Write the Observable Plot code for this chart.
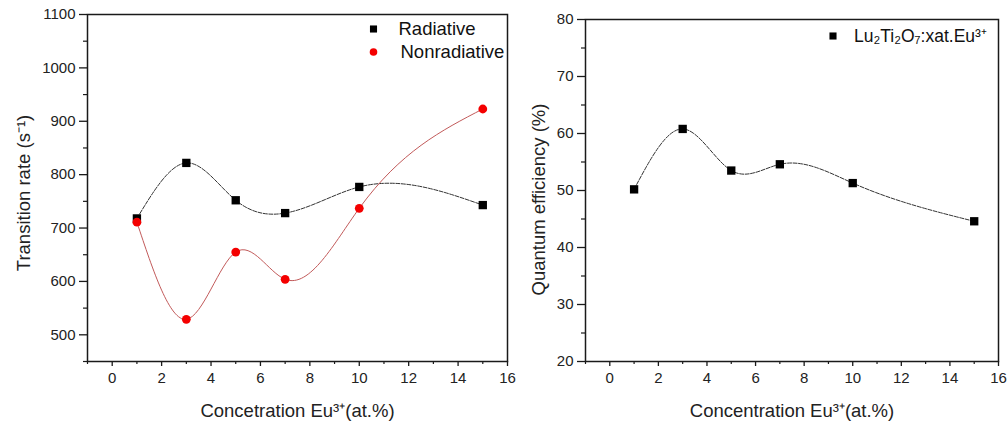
<!DOCTYPE html>
<html>
<head>
<meta charset="utf-8">
<script src="https://cdn.jsdelivr.net/npm/d3@7"></script>
<script src="https://cdn.jsdelivr.net/npm/@observablehq/plot@0.6"></script>
<style>
  html, body { margin: 0; padding: 0; background: #fff; }
  #wrap { position: relative; width: 1008px; height: 426px; overflow: hidden; background: #fff; }
  #left, #right { position: absolute; top: 0; }
  #left { left: 0; }
  #right { left: 510px; }
  svg { background: transparent !important; }
</style>
</head>
<body>
<div id="wrap"><div id="left"></div><div id="right"></div></div>
<script>
// ---- data ----
const concentration = [1, 3, 5, 7, 10, 15];
const radiative = [718, 822, 752, 728, 777, 743];
const nonradiative = [711, 529, 655, 604, 737, 923];
const quantumEfficiency = [50.2, 60.8, 53.5, 54.6, 51.3, 44.6];

const xMajorTicks = [0, 2, 4, 6, 8, 10, 12, 14, 16];
const xMinorTicks = [-1, 1, 3, 5, 7, 9, 11, 13, 15];
const yLeftMajorTicks = [500, 600, 700, 800, 900, 1000, 1100];
const yLeftMinorTicks = [450, 550, 650, 750, 850, 950, 1050];
const yRightMajorTicks = [20, 30, 40, 50, 60, 70, 80];
const yRightMinorTicks = [25, 35, 45, 55, 65, 75];

const leftLegend = ["Radiative", "Nonradiative"];
const rightLegend = ["Lu\u2082Ti\u2082O\u2087:xat.Eu\u00b3\u207a"];
const leftXLabel = "Concetration Eu\u00b3\u207a(at.%)";
const rightXLabel = "Concentration Eu\u00b3\u207a(at.%)";
const leftYLabel = "Transition rate (s\u207b\u00b9)";
const rightYLabel = "Quantum efficiency (%)";

const radRows = concentration.map((c, i) => ({c, v: radiative[i]}));
const nonRows = concentration.map((c, i) => ({c, v: nonradiative[i]}));
const qeRows = concentration.map((c, i) => ({c, v: quantumEfficiency[i]}));

const FONT = "'Liberation Sans', Arial, Helvetica, sans-serif";
const INK = "#1a1a1a";

// custom d3-style curve: natural cubic spline of y as a function of x
function splineX(context) {
  let xs, ys;
  return {
    areaStart() {}, areaEnd() {},
    lineStart() { xs = []; ys = []; },
    point(x, y) { xs.push(+x); ys.push(+y); },
    lineEnd() {
      const n = xs.length;
      if (!n) return;
      context.moveTo(xs[0], ys[0]);
      if (n === 1) return;
      if (n === 2) { context.lineTo(xs[1], ys[1]); return; }
      const h = [];
      for (let i = 0; i < n - 1; i++) h[i] = xs[i + 1] - xs[i];
      const M = new Array(n).fill(0);
      const m = n - 2, a = [], b = [], c = [], d = [];
      for (let k = 0; k < m; k++) {
        const i = k + 1;
        a[k] = h[i - 1]; b[k] = 2 * (h[i - 1] + h[i]); c[k] = h[i];
        d[k] = 6 * ((ys[i + 1] - ys[i]) / h[i] - (ys[i] - ys[i - 1]) / h[i - 1]);
      }
      for (let k = 1; k < m; k++) {
        const w = a[k] / b[k - 1];
        b[k] -= w * c[k - 1];
        d[k] -= w * d[k - 1];
      }
      const sol = new Array(m);
      sol[m - 1] = d[m - 1] / b[m - 1];
      for (let k = m - 2; k >= 0; k--) sol[k] = (d[k] - c[k] * sol[k + 1]) / b[k];
      for (let k = 0; k < m; k++) M[k + 1] = sol[k];
      for (let i = 0; i < n - 1; i++) {
        const hh = h[i], s = (ys[i + 1] - ys[i]) / hh;
        const m0 = s - hh * (2 * M[i] + M[i + 1]) / 6;
        const m1 = s + hh * (M[i] + 2 * M[i + 1]) / 6;
        context.bezierCurveTo(xs[i] + hh / 3, ys[i] + m0 * hh / 3,
                              xs[i + 1] - hh / 3, ys[i + 1] - m1 * hh / 3,
                              xs[i + 1], ys[i + 1]);
      }
    }
  };
}

function axes(yMajor, yMinor) {
  return [
    Plot.axisX(xMajorTicks, {tickSize: 5, tickPadding: 6, tickFormat: (d) => String(d), label: null, fontSize: 15, stroke: INK, strokeWidth: 1.3, fill: "#222"}),
    Plot.axisX(xMinorTicks, {tickSize: 3, tickFormat: () => "", label: null, stroke: INK, strokeWidth: 1.2}),
    Plot.axisY(yMajor, {tickSize: 8, tickPadding: 4, tickFormat: (d) => String(d), label: null, fontSize: 15, stroke: INK, strokeWidth: 1.3, fill: "#222"}),
    Plot.axisY(yMinor, {tickSize: 4, tickFormat: () => "", label: null, stroke: INK, strokeWidth: 1.2})
  ];
}

const left = Plot.plot({
  width: 510, height: 426,
  marginLeft: 87, marginRight: 3, marginTop: 14, marginBottom: 65,
  style: {fontFamily: FONT, fontSize: "15px", color: "#222", background: "transparent", overflow: "visible"},
  x: {domain: [-1, 16]},
  y: {domain: [450, 1100]},
  marks: [
    ...axes(yLeftMajorTicks, yLeftMinorTicks),
    Plot.line(radRows, {x: "c", y: "v", curve: splineX, stroke: "#333", strokeWidth: 1, strokeDasharray: "4,1.5"}),
    Plot.line(nonRows, {x: "c", y: "v", curve: splineX, stroke: "#c25a5a", strokeWidth: 1}),
    Plot.dot(radRows, {x: "c", y: "v", symbol: "square", r: 4.7, fill: "#000", stroke: "none"}),
    Plot.dot(nonRows, {x: "c", y: "v", symbol: "circle", r: 4.4, fill: "#f40000", stroke: "none"}),
    Plot.frame({stroke: INK, strokeWidth: 1.5}),
    // legend
    Plot.dot([0], {x: null, y: null, frameAnchor: "top-right", dx: -134, dy: 14.5, symbol: "square", r: 4, fill: "#000", stroke: "none"}),
    Plot.dot([0], {x: null, y: null, frameAnchor: "top-right", dx: -134, dy: 37.5, symbol: "circle", r: 3.8, fill: "#f40000", stroke: "none"}),
    Plot.text([leftLegend[0]], {frameAnchor: "top-right", dx: -109, dy: 14.5, textAnchor: "start", lineAnchor: "middle", fontSize: 18.5, fill: "#111"}),
    Plot.text([leftLegend[1]], {frameAnchor: "top-right", dx: -107, dy: 37.5, textAnchor: "start", lineAnchor: "middle", fontSize: 18.5, fill: "#111"}),
    // axis titles
    Plot.text([leftXLabel], {frameAnchor: "bottom", dy: 50, textAnchor: "middle", lineAnchor: "middle", fontSize: 18.5, fill: "#222"}),
    Plot.text([leftYLabel], {frameAnchor: "left", dx: -63, dy: 5, rotate: -90, textAnchor: "middle", lineAnchor: "middle", fontSize: 18.5, fill: "#222"})
  ]
});

const right = Plot.plot({
  width: 498, height: 426,
  marginLeft: 75, marginRight: 10, marginTop: 19, marginBottom: 65,
  style: {fontFamily: FONT, fontSize: "15px", color: "#222", background: "transparent", overflow: "visible"},
  x: {domain: [-1, 16]},
  y: {domain: [20, 80]},
  marks: [
    ...axes(yRightMajorTicks, yRightMinorTicks),
    Plot.line(qeRows, {x: "c", y: "v", curve: splineX, stroke: "#333", strokeWidth: 1, strokeDasharray: "4,1.5"}),
    Plot.dot(qeRows, {x: "c", y: "v", symbol: "square", r: 4.7, fill: "#000", stroke: "none"}),
    Plot.frame({stroke: INK, strokeWidth: 1.5}),
    Plot.dot([0], {x: null, y: null, frameAnchor: "top-right", dx: -165.5, dy: 16.5, symbol: "square", r: 4, fill: "#000", stroke: "none"}),
    Plot.text(rightLegend, {frameAnchor: "top-right", dx: -144.5, dy: 16.5, textAnchor: "start", lineAnchor: "middle", fontSize: 17.5, fill: "#111"}),
    Plot.text([rightXLabel], {frameAnchor: "bottom", dy: 50, textAnchor: "middle", lineAnchor: "middle", fontSize: 18.5, fill: "#222"}),
    Plot.text([rightYLabel], {frameAnchor: "left", dx: -46, dy: 9, rotate: -90, textAnchor: "middle", lineAnchor: "middle", fontSize: 18.5, fill: "#222"})
  ]
});

document.getElementById("left").appendChild(left);
document.getElementById("right").appendChild(right);
</script>
</body>
</html>
